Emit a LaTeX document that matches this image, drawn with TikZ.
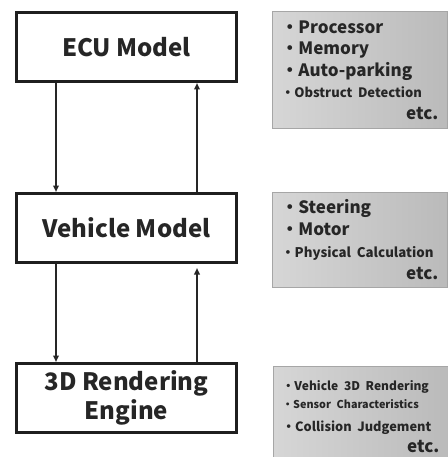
\documentclass[tikz,border=0pt]{standalone}
\usepackage{fontspec}
\setmainfont{Noto Sans CJK JP}
\usetikzlibrary{positioning, arrows.meta}

\begin{document}
\begin{tikzpicture}[x=1pt, y=1pt,
    model/.style={draw=black!88, line width=3pt, minimum width=220pt,
      minimum height=69pt, align=center, text=black!85,
      font=\bfseries\fontsize{24}{29}\selectfont},
    spec/.style={draw=black!35, line width=0.8pt, left color=black!16,
      right color=black!27, text width=157pt, inner xsep=9pt,
      inner ysep=0pt, align=left, text=black!85,
      font=\bfseries\fontsize{17}{21.5}\selectfont},
    link/.style={line width=2pt, draw=black!85,
      -{Triangle[length=6.5pt, width=5.5pt]}}]
    \useasboundingbox (0,0) rectangle (447,-457);
    \node[model] (ecu) at (126.5,-47) {ECU Model};
    \node[model] (vehicle) [below=109pt of ecu] {Vehicle Model};
    \node[model] (render) [below=98pt of vehicle] {3D Rendering\\Engine};

    \node[spec, minimum height=117pt] (ecuspec)
      [right=34pt of ecu.north east, anchor=north west]
      {・Processor\\
       ・Memory\\
       ・Auto-parking\\
       {\fontsize{13}{21.5}\selectfont ・Obstruct Detection}\\
       \hspace*{\fill}etc.};
    \node[spec, minimum height=95pt, font=\bfseries\fontsize{17}{22}\selectfont] (vehiclespec)
      [right=34pt of vehicle.north east, anchor=north west]
      {・Steering\\
       ・Motor\\
       {\fontsize{13.3}{22}\selectfont ・Physical Calculation}\\
       \hspace*{\fill}etc.};
    \node[spec, minimum height=100pt, font=\bfseries\fontsize{17}{21}\selectfont] (renderspec)
      [right=35pt of render.north east, anchor=north west, yshift=-4pt]
      {{\fontsize{12}{21}\selectfont ・Vehicle 3D Rendering}\\[-3pt]
       {\fontsize{10.8}{21}\selectfont ・Sensor Characteristics}\\[2pt]
       {\fontsize{12.8}{21}\selectfont ・Collision Judgement}\\
       \hspace*{\fill}etc.};

    \draw[link] ([xshift=-70.5pt]ecu.south) -- ([xshift=-70.5pt]vehicle.north);
    \draw[link] ([xshift=70.5pt]vehicle.north) -- ([xshift=70.5pt]ecu.south);
    \draw[link] ([xshift=-70.5pt]vehicle.south) -- ([xshift=-70.5pt]render.north);
    \draw[link] ([xshift=70.5pt]render.north) -- ([xshift=70.5pt, yshift=-4pt]vehicle.south);
\end{tikzpicture}
\end{document}
